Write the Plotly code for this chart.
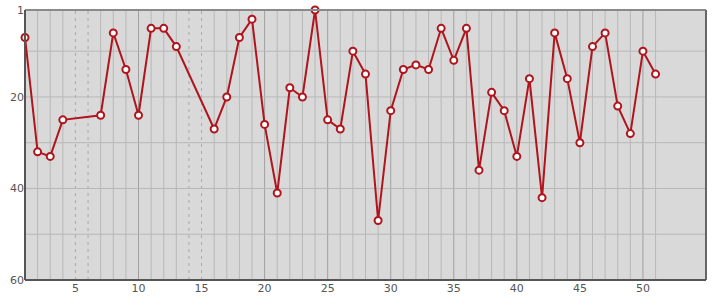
import plotly.graph_objects as go

x_vals = [1, 2, 3, 4, 7, 8, 9, 10, 11, 12, 13, 16, 17, 18, 19, 20, 21, 22, 23, 24,
          25, 26, 27, 28, 29, 30, 31, 32, 33, 34, 35, 36, 37, 38, 39, 40, 41, 42, 43,
          44, 45, 46, 47, 48, 49, 50, 51]
y_vals = [7, 32, 33, 25, 24, 6, 14, 24, 5, 5, 9, 27, 20, 7, 3, 26, 41, 18, 20, 1,
          25, 27, 10, 15, 47, 23, 14, 13, 14, 5, 12, 5, 36, 19, 23, 33, 16, 42, 6,
          16, 30, 9, 6, 22, 28, 10, 15]
x_ticks = [5, 10, 15, 20, 25, 30, 35, 40, 45, 50]
y_ticks = [1, 20, 40, 60]
y_grid = [10, 20, 30, 40, 50]

fig = go.Figure()

shapes = []
present = set(x_vals)
for xv in range(min(x_vals), max(x_vals) + 1):
    if xv in present:
        col = "#a0a0a0" if xv % 5 == 0 else "#b8b8b8"
        shapes.append(dict(type="line", xref="x", yref="paper", x0=xv, x1=xv, y0=0, y1=1,
                           line=dict(color=col, width=1), layer="below"))
    else:
        shapes.append(dict(type="line", xref="x", yref="paper", x0=xv, x1=xv, y0=0, y1=1,
                           line=dict(color="#a8a8a8", width=1, dash="3px,4px"), layer="below"))
for yv in y_grid:
    shapes.append(dict(type="line", xref="paper", yref="y", x0=0, x1=1, y0=yv, y1=yv,
                       line=dict(color="#b8b8b8", width=1), layer="below"))
# borders
shapes.append(dict(type="line", xref="paper", yref="paper", x0=0, x1=1, y0=1, y1=1,
                   line=dict(color="#8a8a8a", width=2)))
shapes.append(dict(type="line", xref="paper", yref="paper", x0=1, x1=1, y0=0, y1=1,
                   line=dict(color="#666666", width=2)))
shapes.append(dict(type="line", xref="paper", yref="paper", x0=0, x1=1, y0=0, y1=0,
                   line=dict(color="#555555", width=2)))
shapes.append(dict(type="line", xref="paper", yref="paper", x0=0, x1=0, y0=0, y1=1,
                   line=dict(color="#555555", width=2)))

fig.add_trace(go.Scatter(
    x=x_vals, y=y_vals, mode="lines+markers",
    line=dict(color="#b0141c", width=2),
    marker=dict(size=7, color="white", line=dict(color="#b0141c", width=2)),
    cliponaxis=False, hoverinfo="x+y",
))

fig.update_layout(
    width=715, height=300,
    margin=dict(l=25, r=9, t=10, b=20),
    paper_bgcolor="white", plot_bgcolor="#d9d9d9",
    showlegend=False,
    shapes=shapes,
    font=dict(family="DejaVu Sans", size=11, color="#444444"),
    xaxis=dict(range=[1, 55], tickvals=x_ticks, showgrid=False, zeroline=False,
               automargin=False, ticks="", ticklen=0,
               tickfont=dict(size=11, color="#555555")),
    yaxis=dict(range=[60, 1], tickvals=y_ticks, showgrid=False, zeroline=False,
               automargin=False, ticks="",
               tickfont=dict(size=11, color="#555555")),
)

fig.write_html("out.html")
